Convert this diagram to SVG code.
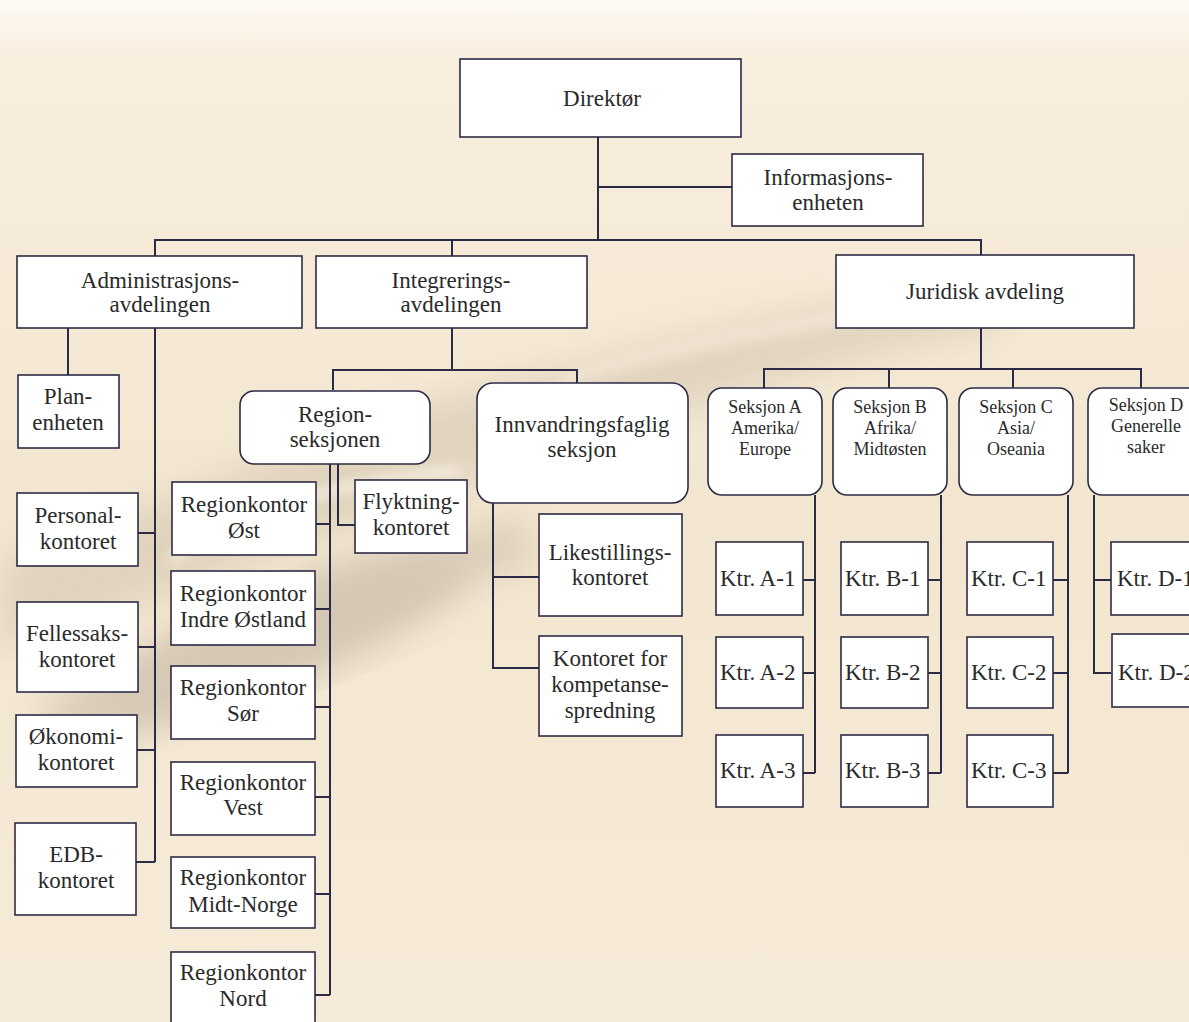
<svg xmlns="http://www.w3.org/2000/svg" width="1189" height="1022" viewBox="0 0 1189 1022">
<defs>
<linearGradient id="bg" x1="0" y1="0" x2="0" y2="1">
<stop offset="0" stop-color="#fdf9f3"/>
<stop offset="0.06" stop-color="#f8eedd"/>
<stop offset="0.5" stop-color="#f3e6d0"/>
<stop offset="1" stop-color="#f6ebd8"/>
</linearGradient>
<filter id="blur" x="-20%" y="-20%" width="140%" height="140%"><feGaussianBlur stdDeviation="18"/></filter>
<filter id="blur2" x="-20%" y="-20%" width="140%" height="140%"><feGaussianBlur stdDeviation="6"/></filter>
<style>
.box{fill:#ffffff;stroke:#2c2b45;stroke-width:1.6}
.t{font-family:"Liberation Serif","Times New Roman",serif;font-size:23px;fill:#2a2a2a;text-anchor:middle}
.s{font-family:"Liberation Serif","Times New Roman",serif;font-size:18px;fill:#2a2a2a;text-anchor:middle}
.k{font-family:"Liberation Serif","Times New Roman",serif;font-size:23px;fill:#2a2a2a}
.ln{fill:none;stroke:#2c2b45;stroke-width:2}
</style>
</defs>
<rect width="1189" height="1022" fill="url(#bg)"/>
<g opacity="0.45">
<path d="M0 560 C150 520 300 430 480 390 C640 350 820 300 1000 280 L1000 330 C820 360 650 420 500 470 C330 530 170 600 0 650 Z" fill="#c9bba4" filter="url(#blur)"/>
<path d="M40 700 C200 640 330 560 520 520 L540 560 C360 610 230 690 60 760 Z" fill="#bcae99" filter="url(#blur)"/>
<path d="M170 560 C260 500 360 480 460 470" stroke="#ffffff" stroke-width="8" fill="none" filter="url(#blur2)"/>
<path d="M560 380 C650 350 760 330 880 310" stroke="#e9dfcf" stroke-width="14" fill="none" filter="url(#blur2)"/>
<ellipse cx="280" cy="640" rx="200" ry="45" fill="#b0a28f" filter="url(#blur)" transform="rotate(-22 280 640)"/>
</g>

<g id="connectors">
<path class="ln" d="M598 137 V240"/>
<path class="ln" d="M598 187 H732"/>
<path class="ln" d="M155 256 V240 H981 V255"/>
<path class="ln" d="M452 240 V256"/>
<path class="ln" d="M68 328 V375"/>
<path class="ln" d="M155 328 V862"/>
<path class="ln" d="M138 533 H155 M138 647 H155 M137 750 H155 M136 862 H155"/>
<path class="ln" d="M452 328 V370 M333 390 V370 H577 V383"/>
<path class="ln" d="M330 464 V995"/>
<path class="ln" d="M316 524 H330 M315 609 H330 M315 707 H330 M315 797 H330 M315 894 H330 M315 995 H330"/>
<path class="ln" d="M338 464 V525 H355"/>
<path class="ln" d="M493 503 V668 H539 M493 577 H539"/>
<path class="ln" d="M981 328 V369 M764 388 V369 H1141 V388 M889 369 V388 M1013 369 V388"/>
<path class="ln" d="M815 495 V773 M803 580 H815 M803 673 H815 M803 773 H815"/>
<path class="ln" d="M941 495 V773 M928 580 H941 M928 673 H941 M928 773 H941"/>
<path class="ln" d="M1068 495 V773 M1053 580 H1068 M1053 673 H1068 M1053 773 H1068"/>
<path class="ln" d="M1094 495 V673 H1111 M1094 580 H1111"/>
</g>

<g id="direktor"><rect class="box" x="460" y="59" width="281" height="78"/><text class="t" x="602" y="106">Direktør</text></g>
<g id="informasjonsenheten"><rect class="box" x="732" y="154" width="191" height="72"/><text class="t" x="828" y="185">Informasjons-</text><text class="t" x="828" y="210">enheten</text></g>
<g id="administrasjonsavdelingen"><rect class="box" x="17" y="256" width="285" height="72"/><text class="t" x="160" y="288">Administrasjons-</text><text class="t" x="160" y="312">avdelingen</text></g>
<g id="integreringsavdelingen"><rect class="box" x="316" y="256" width="271" height="72"/><text class="t" x="451" y="288">Integrerings-</text><text class="t" x="451" y="312">avdelingen</text></g>
<g id="juridisk"><rect class="box" x="836" y="255" width="298" height="73"/><text class="t" x="985" y="299">Juridisk avdeling</text></g>

<g id="planenheten"><rect class="box" x="18" y="375" width="101" height="73"/><text class="t" x="68" y="404">Plan-</text><text class="t" x="68" y="430">enheten</text></g>
<g id="personalkontoret"><rect class="box" x="17" y="493" width="121" height="73"/><text class="t" x="78" y="523">Personal-</text><text class="t" x="78" y="549">kontoret</text></g>
<g id="fellessakskontoret"><rect class="box" x="17" y="602" width="121" height="90"/><text class="t" x="77" y="641">Fellessaks-</text><text class="t" x="77" y="667">kontoret</text></g>
<g id="okonomikontoret"><rect class="box" x="16" y="715" width="121" height="72"/><text class="t" x="76" y="744">Økonomi-</text><text class="t" x="76" y="770">kontoret</text></g>
<g id="edbkontoret"><rect class="box" x="15" y="823" width="121" height="92"/><text class="t" x="76" y="862">EDB-</text><text class="t" x="76" y="888">kontoret</text></g>

<g id="regionseksjonen"><rect class="box" x="240" y="391" width="190" height="73" rx="14"/><text class="t" x="335" y="422">Region-</text><text class="t" x="335" y="447">seksjonen</text></g>
<g id="flyktningkontoret"><rect class="box" x="355" y="480" width="112" height="73"/><text class="t" x="411" y="509">Flyktning-</text><text class="t" x="411" y="535">kontoret</text></g>
<g id="rk-ost"><rect class="box" x="172" y="482" width="144" height="73"/><text class="t" x="244" y="512">Regionkontor</text><text class="t" x="244" y="538">Øst</text></g>
<g id="rk-indre"><rect class="box" x="171" y="571" width="144" height="74"/><text class="t" x="243" y="601">Regionkontor</text><text class="t" x="243" y="627">Indre Østland</text></g>
<g id="rk-sor"><rect class="box" x="171" y="666" width="144" height="73"/><text class="t" x="243" y="695">Regionkontor</text><text class="t" x="243" y="721">Sør</text></g>
<g id="rk-vest"><rect class="box" x="171" y="762" width="144" height="73"/><text class="t" x="243" y="790">Regionkontor</text><text class="t" x="243" y="815">Vest</text></g>
<g id="rk-midt"><rect class="box" x="171" y="857" width="144" height="71"/><text class="t" x="243" y="885">Regionkontor</text><text class="t" x="243" y="912">Midt-Norge</text></g>
<g id="rk-nord"><rect class="box" x="171" y="952" width="144" height="80"/><text class="t" x="243" y="980">Regionkontor</text><text class="t" x="243" y="1006">Nord</text></g>

<g id="innvandringsfaglig"><rect class="box" x="477" y="383" width="211" height="120" rx="16"/><text class="t" x="582" y="432">Innvandringsfaglig</text><text class="t" x="582" y="457">seksjon</text></g>
<g id="likestillingskontoret"><rect class="box" x="539" y="514" width="143" height="102"/><text class="t" x="610" y="560">Likestillings-</text><text class="t" x="610" y="585">kontoret</text></g>
<g id="kompetansespredning"><rect class="box" x="539" y="636" width="143" height="100"/><text class="t" x="610" y="666">Kontoret for</text><text class="t" x="610" y="692">kompetanse-</text><text class="t" x="610" y="718">spredning</text></g>

<g id="seksjon-a"><rect class="box" x="708" y="388" width="114" height="107" rx="14"/><text class="s" x="765" y="413">Seksjon A</text><text class="s" x="765" y="434">Amerika/</text><text class="s" x="765" y="455">Europe</text></g>
<g id="seksjon-b"><rect class="box" x="833" y="388" width="114" height="107" rx="14"/><text class="s" x="890" y="413">Seksjon B</text><text class="s" x="890" y="434">Afrika/</text><text class="s" x="890" y="455">Midtøsten</text></g>
<g id="seksjon-c"><rect class="box" x="959" y="388" width="114" height="107" rx="14"/><text class="s" x="1016" y="413">Seksjon C</text><text class="s" x="1016" y="434">Asia/</text><text class="s" x="1016" y="455">Oseania</text></g>
<g id="seksjon-d"><rect class="box" x="1088" y="388" width="120" height="107" rx="14"/><text class="s" x="1146" y="411">Seksjon D</text><text class="s" x="1146" y="432">Generelle</text><text class="s" x="1146" y="453">saker</text></g>

<g id="ktr-a1"><rect class="box" x="716" y="542" width="87" height="73"/><text class="k" x="720" y="586">Ktr. A-1</text></g>
<g id="ktr-a2"><rect class="box" x="716" y="637" width="87" height="71"/><text class="k" x="720" y="680">Ktr. A-2</text></g>
<g id="ktr-a3"><rect class="box" x="716" y="735" width="87" height="72"/><text class="k" x="720" y="778">Ktr. A-3</text></g>
<g id="ktr-b1"><rect class="box" x="841" y="542" width="87" height="73"/><text class="k" x="845" y="586">Ktr. B-1</text></g>
<g id="ktr-b2"><rect class="box" x="841" y="637" width="87" height="71"/><text class="k" x="845" y="680">Ktr. B-2</text></g>
<g id="ktr-b3"><rect class="box" x="841" y="735" width="87" height="72"/><text class="k" x="845" y="778">Ktr. B-3</text></g>
<g id="ktr-c1"><rect class="box" x="967" y="542" width="86" height="73"/><text class="k" x="971" y="586">Ktr. C-1</text></g>
<g id="ktr-c2"><rect class="box" x="967" y="637" width="86" height="71"/><text class="k" x="971" y="680">Ktr. C-2</text></g>
<g id="ktr-c3"><rect class="box" x="967" y="735" width="86" height="72"/><text class="k" x="971" y="778">Ktr. C-3</text></g>
<g id="ktr-d1"><rect class="box" x="1111" y="542" width="100" height="73"/><text class="k" x="1117" y="586">Ktr. D-1</text></g>
<g id="ktr-d2"><rect class="box" x="1112" y="634" width="100" height="73"/><text class="k" x="1118" y="680">Ktr. D-2</text></g>
</svg>
